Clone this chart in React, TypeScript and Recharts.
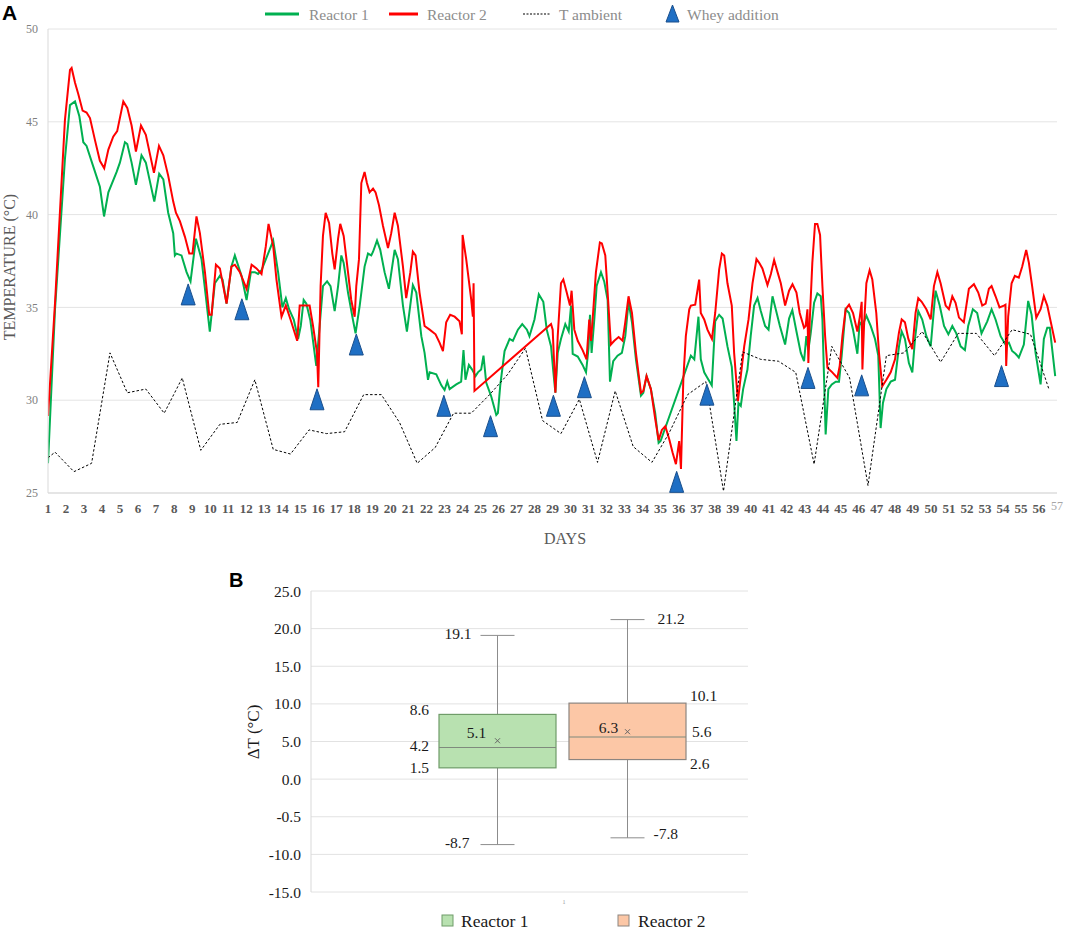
import React from 'react';
import {
  Bar,
  CartesianGrid,
  ComposedChart,
  Line,
  Scatter,
  XAxis,
  YAxis,
} from 'recharts';

const serif = '"Liberation Serif", "Times New Roman", serif';
const sans = '"Liberation Sans", Arial, sans-serif';

// Panel A: temperature readings, [day, °C]
const reactor1: [number, number][] = [
  [1.0, 26.6], [1.39, 34.9], [1.94, 43.0], [2.22, 45.9], [2.5, 46.1], [2.74, 45.3], [2.96, 43.9], [3.14, 43.7],
  [3.51, 42.6], [3.88, 41.5], [4.11, 39.9], [4.35, 41.2], [4.81, 42.3], [4.99, 42.8], [5.27, 43.9], [5.4, 43.8],
  [5.64, 42.8], [5.88, 41.6], [6.19, 43.2], [6.43, 42.8], [6.9, 40.7], [7.17, 42.2], [7.4, 41.9], [7.67, 40.1],
  [7.95, 39.0], [8.04, 37.8], [8.13, 37.9], [8.41, 37.8], [8.69, 36.9], [8.91, 36.4], [9.21, 38.7], [9.52, 37.6],
  [9.76, 35.6], [9.98, 33.7], [10.26, 36.3], [10.54, 36.7], [10.69, 36.5], [10.91, 35.2], [11.18, 37.2], [11.37, 37.8],
  [11.74, 36.7], [12.02, 35.4], [12.26, 36.9], [12.48, 36.9], [12.66, 36.8], [12.85, 37.0], [13.5, 38.6], [13.77, 36.9],
  [14.01, 35.0], [14.2, 35.5], [14.38, 34.9], [14.64, 34.35], [14.88, 33.3], [15.03, 34.0], [15.19, 35.4], [15.34, 35.2],
  [15.56, 34.3], [15.89, 31.85], [16.26, 36.15], [16.49, 36.4], [16.68, 36.15], [16.91, 34.8], [17.1, 36.15], [17.28, 37.8],
  [17.41, 37.4], [17.65, 35.8], [17.93, 34.3], [18.07, 33.6], [18.3, 35.1], [18.57, 37.2], [18.76, 37.9], [18.94, 37.8],
  [19.04, 38.0], [19.26, 38.6], [19.44, 38.1], [19.68, 36.9], [19.92, 36.0], [20.24, 38.1], [20.42, 37.6], [20.7, 35.1],
  [20.92, 33.7], [21.25, 36.2], [21.44, 35.8], [21.72, 33.45], [21.9, 32.55], [22.09, 31.1], [22.18, 31.5], [22.55, 31.4],
  [22.83, 30.8], [23.01, 30.55], [23.16, 31.0], [23.29, 30.6], [23.66, 30.85], [23.93, 31.0], [24.06, 32.7], [24.17, 31.1],
  [24.36, 31.9], [24.54, 31.65], [24.73, 31.3], [24.86, 31.5], [25.04, 31.65], [25.17, 32.4], [25.32, 30.95], [25.6, 30.2],
  [25.88, 29.2], [25.97, 29.3], [26.1, 30.8], [26.34, 32.65], [26.62, 33.3], [26.8, 33.2], [27.08, 33.8], [27.32, 34.1],
  [27.58, 33.8], [27.72, 33.45], [28.0, 34.35], [28.24, 35.7], [28.49, 35.3], [28.68, 33.8], [28.92, 32.9], [29.05, 31.5],
  [29.16, 30.4], [29.29, 32.55], [29.47, 33.3], [29.71, 34.1], [29.9, 33.7], [30.03, 35.1], [30.12, 32.5], [30.4, 32.35],
  [30.67, 31.9], [30.86, 31.5], [31.0, 32.8], [31.08, 34.6], [31.17, 32.55], [31.32, 34.35], [31.45, 36.15], [31.69, 36.9],
  [31.87, 36.4], [32.06, 35.4], [32.19, 31.0], [32.37, 32.1], [32.61, 32.4], [32.85, 32.55], [33.04, 33.45], [33.22, 35.3],
  [33.41, 34.2], [33.63, 32.2], [33.91, 30.25], [34.04, 30.4], [34.22, 31.3], [34.46, 30.6], [34.7, 29.3], [34.89, 27.7],
  [35.0, 27.8], [36.68, 32.4], [36.87, 32.2], [37.1, 34.5], [37.23, 32.2], [37.42, 31.5], [37.6, 31.2], [37.84, 30.8],
  [38.03, 34.25], [38.25, 34.6], [38.44, 34.4], [38.71, 32.9], [38.95, 31.8], [39.08, 29.85], [39.21, 27.8], [39.32, 29.85],
  [39.45, 29.7], [39.58, 30.6], [39.82, 31.65], [40.0, 33.45], [40.19, 35.1], [40.38, 35.5], [40.56, 34.8], [40.8, 34.0],
  [40.99, 33.8], [41.21, 35.6], [41.39, 34.9], [41.62, 34.0], [41.91, 33.0], [42.13, 34.4], [42.31, 34.85], [42.54, 33.7],
  [42.78, 32.55], [42.96, 32.1], [43.09, 33.45], [43.2, 32.7], [43.33, 33.6], [43.52, 35.25], [43.7, 35.75], [43.89, 35.6],
  [43.98, 34.35], [44.16, 28.15], [44.31, 30.6], [44.5, 30.85], [44.72, 31.0], [44.9, 31.0], [45.05, 32.4], [45.27, 34.9],
  [45.46, 34.7], [45.68, 33.8], [45.92, 32.5], [46.05, 34.2], [46.2, 34.0], [46.42, 34.55], [46.66, 34.0], [46.9, 33.3],
  [47.08, 32.4], [47.21, 28.5], [47.34, 29.85], [47.53, 30.6], [47.77, 31.0], [48.01, 31.1], [48.23, 32.9], [48.38, 33.7],
  [48.56, 33.3], [48.78, 32.0], [48.97, 31.5], [49.12, 33.3], [49.3, 34.8], [49.52, 34.35], [49.75, 33.45], [49.99, 32.9],
  [50.26, 35.9], [50.49, 35.1], [50.73, 34.0], [50.97, 33.55], [51.19, 34.0], [51.41, 33.6], [51.65, 32.9], [51.89, 32.7],
  [52.07, 34.0], [52.33, 34.9], [52.57, 34.7], [52.81, 33.6], [53.13, 34.25], [53.37, 34.9], [53.59, 34.35], [53.87, 33.45],
  [54.14, 33.0], [54.33, 33.1], [54.51, 32.65], [54.7, 32.5], [54.88, 32.3], [55.16, 33.0], [55.4, 35.35], [55.59, 34.6],
  [55.81, 32.55], [56.09, 30.85], [56.27, 33.3], [56.46, 33.9], [56.6, 33.9], [56.9, 31.3],
];

const reactor2: [number, number][] = [
  [1.0, 29.15], [1.39, 35.25], [1.94, 45.1], [2.22, 47.8], [2.31, 47.9], [2.5, 47.1], [2.68, 46.5], [2.92, 45.6],
  [3.14, 45.5], [3.33, 45.2], [3.61, 44.0], [3.88, 42.9], [4.12, 42.5], [4.35, 43.5], [4.62, 44.2], [4.84, 44.5],
  [5.18, 46.1], [5.4, 45.75], [5.64, 44.8], [5.88, 43.4], [6.16, 44.8], [6.43, 44.3], [6.88, 42.25], [7.16, 43.7],
  [7.4, 43.2], [7.67, 42.1], [7.95, 40.7], [8.1, 40.1], [8.32, 39.65], [8.6, 38.8], [8.84, 37.9], [9.02, 37.9],
  [9.24, 39.9], [9.43, 39.0], [9.71, 36.9], [9.95, 34.6], [10.08, 34.6], [10.32, 37.3], [10.54, 37.1], [10.91, 35.2],
  [11.18, 37.2], [11.37, 37.3], [11.65, 36.9], [12.02, 36.0], [12.3, 37.3], [12.57, 37.1], [12.85, 36.8], [13.09, 38.3],
  [13.24, 39.5], [13.5, 38.3], [13.68, 36.5], [13.96, 34.5], [14.2, 35.1], [14.46, 34.35], [14.83, 33.2], [14.97, 35.1],
  [15.52, 35.1], [15.71, 34.0], [15.93, 32.55], [16.0, 30.7], [16.13, 36.15], [16.26, 38.85], [16.41, 40.1], [16.6, 39.55],
  [16.78, 37.9], [16.91, 37.05], [17.1, 38.7], [17.22, 39.5], [17.41, 38.85], [17.65, 36.9], [17.83, 35.4], [18.02, 34.5],
  [18.11, 36.15], [18.26, 37.6], [18.39, 41.7], [18.57, 42.3], [18.7, 41.7], [18.85, 41.2], [19.04, 41.4], [19.18, 41.2],
  [19.37, 40.5], [19.59, 39.4], [19.87, 38.2], [20.05, 39.0], [20.24, 40.1], [20.42, 39.4], [20.7, 37.2], [20.88, 35.5],
  [21.11, 36.9], [21.25, 38.0], [21.4, 37.8], [21.62, 35.8], [21.9, 34.0], [22.18, 33.8], [22.51, 33.55], [22.73, 33.1],
  [22.92, 32.65], [23.1, 34.2], [23.32, 34.6], [23.57, 34.5], [23.84, 34.25], [23.97, 33.55], [24.01, 38.9], [24.21, 37.6],
  [24.49, 35.4], [24.58, 34.5], [24.62, 36.3], [24.67, 30.5], [28.92, 34.1], [29.01, 33.8], [29.16, 30.4], [29.29, 33.45],
  [29.47, 36.3], [29.6, 36.5], [29.79, 35.8], [29.97, 35.1], [30.06, 35.9], [30.21, 33.8], [30.4, 33.2], [30.67, 32.7],
  [30.89, 32.2], [31.04, 34.35], [31.14, 33.2], [31.26, 34.8], [31.41, 36.9], [31.63, 38.5], [31.74, 38.45], [31.93, 37.8],
  [32.06, 35.8], [32.24, 33.0], [32.43, 33.2], [32.67, 33.4], [32.89, 33.2], [33.04, 34.2], [33.22, 35.6], [33.41, 34.7],
  [33.63, 32.55], [33.91, 30.4], [34.04, 30.5], [34.22, 31.3], [34.46, 30.6], [34.7, 29.0], [34.89, 27.85], [35.07, 28.4],
  [35.26, 28.6], [35.48, 27.9], [35.66, 27.2], [35.85, 26.55], [36.03, 27.8], [36.13, 26.3], [36.26, 31.1], [36.4, 33.45],
  [36.59, 34.9], [36.68, 35.1], [36.92, 35.15], [37.14, 36.5], [37.23, 34.7], [37.42, 34.35], [37.6, 33.8], [37.85, 33.3],
  [38.03, 34.7], [38.25, 37.05], [38.4, 37.9], [38.53, 37.8], [38.71, 36.3], [38.95, 35.1], [39.08, 32.55], [39.29, 29.95],
  [39.45, 31.3], [39.64, 32.9], [39.88, 34.35], [40.1, 36.3], [40.32, 37.6], [40.47, 37.4], [40.65, 37.1], [40.93, 36.2],
  [41.12, 36.8], [41.3, 37.55], [41.49, 36.9], [41.67, 36.3], [41.91, 35.1], [42.13, 35.9], [42.32, 36.25], [42.54, 35.8],
  [42.72, 34.7], [42.96, 33.9], [43.05, 34.0], [43.15, 34.9], [43.2, 32.0], [43.28, 34.35], [43.42, 37.4], [43.57, 39.5],
  [43.7, 39.5], [43.85, 38.9], [43.98, 36.15], [44.13, 33.45], [44.26, 31.75], [44.53, 31.5], [44.81, 31.2], [44.94, 31.85],
  [45.09, 33.45], [45.27, 34.9], [45.46, 35.15], [45.68, 34.7], [45.92, 33.7], [46.05, 34.45], [46.16, 35.3], [46.2, 31.65],
  [46.29, 34.0], [46.42, 36.3], [46.6, 37.0], [46.75, 36.5], [46.97, 34.7], [47.12, 32.55], [47.3, 30.75], [47.53, 31.1],
  [47.77, 31.5], [48.01, 32.2], [48.23, 33.65], [48.38, 34.35], [48.56, 34.2], [48.75, 33.3], [48.97, 32.75], [49.15, 34.7],
  [49.3, 35.5], [49.49, 35.3], [49.75, 34.9], [49.99, 34.35], [50.17, 36.15], [50.36, 36.9], [50.54, 36.3], [50.82, 35.1],
  [51.0, 34.9], [51.19, 35.6], [51.37, 35.25], [51.56, 34.45], [51.83, 34.2], [52.11, 36.0], [52.39, 36.25], [52.63, 35.8],
  [52.85, 35.1], [53.04, 35.2], [53.22, 36.0], [53.37, 36.15], [53.59, 35.6], [53.81, 35.0], [54.05, 35.1], [54.14, 35.15],
  [54.18, 31.85], [54.29, 34.5], [54.48, 36.3], [54.66, 36.7], [54.88, 36.6], [55.07, 37.2], [55.29, 38.1], [55.44, 37.4],
  [55.62, 36.15], [55.85, 34.45], [56.09, 34.9], [56.27, 35.6], [56.46, 35.1], [56.9, 33.1],
];

const ambient: [number, number][] = [
  [1.0, 26.9], [1.39, 27.2], [2.44, 26.15], [3.42, 26.6], [4.44, 32.55], [5.4, 30.4], [6.43, 30.6], [7.45, 29.3],
  [8.45, 31.2], [9.48, 27.3], [10.54, 28.7], [11.5, 28.8], [12.48, 31.1], [13.5, 27.35], [14.46, 27.1], [15.49, 28.4],
  [16.45, 28.2], [17.46, 28.3], [18.52, 30.3], [19.5, 30.3], [20.51, 28.8], [21.49, 26.6], [22.49, 27.45], [23.51, 29.3],
  [24.49, 29.3], [25.51, 30.3], [26.52, 31.4], [27.5, 32.8], [28.45, 28.9], [29.47, 28.2], [30.49, 30.05], [31.5, 26.65],
  [32.48, 30.5], [33.48, 27.5], [34.52, 26.65], [35.48, 28.25], [36.5, 30.3], [37.51, 31.0], [38.49, 25.1], [39.55, 32.6],
  [40.56, 32.2], [41.54, 32.1], [42.5, 31.5], [43.52, 26.55], [44.5, 32.9], [45.49, 31.2], [46.51, 25.4], [47.53, 32.4],
  [48.51, 32.55], [49.52, 33.7], [50.54, 32.05], [51.52, 33.6], [52.52, 33.6], [53.53, 32.4], [54.51, 33.8], [55.53, 33.55],
  [56.55, 30.6],
];

const wheyDays = [8.78, 11.76, 15.93, 18.11, 22.97, 25.56, 29.05, 30.77, 35.89, 37.57, 43.18, 46.16, 53.92];
const wheyTemps = [35.7, 34.9, 30.05, 33.0, 29.7, 28.6, 29.7, 30.7, 25.6, 30.3, 31.2, 30.8, 31.3];

const dayTicks = Array.from({ length: 57 }, (_, i) => i + 1);
const tempTicks = [25, 30, 35, 40, 45, 50];

// Panel B: ΔT box plot, one entry per reactor
const boxCategory = '1';
const boxSeries = ['Reactor 1', 'Reactor 2'];
const boxMin = [-8.7, -7.8];
const boxQ1 = [1.5, 2.6];
const boxMedian = [4.2, 5.6];
const boxQ3 = [8.6, 10.1];
const boxMax = [19.1, 21.2];
const boxMean = [5.1, 6.3];
const boxFill = ['#b8e1b0', '#fcc7a6'];
const boxStroke = ['#6f9c69', '#8c8580'];

const deltaTicks = [-15, -10, -5, 0, 5, 10, 15, 20, 25];
const deltaTickLabels = ['-15.0', '-10.0', '-0.5', '0.0', '5.0', '10.0', '15.0', '20.0', '25.0'];

const toPoints = (arr: [number, number][]) => arr.map(([day, value]) => ({ day, value }));
const wheyPoints = wheyDays.map((day, i) => ({ day, value: wheyTemps[i] }));

const boxRows = [
  {
    name: boxCategory,
    r0: [boxMin[0], boxMax[0]],
    r1: [boxMin[1], boxMax[1]],
  },
];

const DayTick = (props: any) => {
  const { x, y, payload } = props;
  const last = payload.value === 57;
  return (
    <text
      x={x}
      y={last ? y + 9 : y + 12}
      textAnchor="middle"
      fontFamily={serif}
      fontSize={last ? 12 : 13}
      fontWeight={last ? 400 : 700}
      fill={last ? '#a6a6a6' : '#595959'}
    >
      {payload.value}
    </text>
  );
};

const Triangle = (props: any) => {
  const { cx, cy } = props;
  if (cx == null || cy == null) return null;
  return (
    <polygon
      points={`${cx},${cy - 10.5} ${cx - 7},${cy + 10.5} ${cx + 7},${cy + 10.5}`}
      fill="#1f6fc4"
      stroke="#1a4f8c"
      strokeWidth={1}
    />
  );
};

const CategoryTick = (props: any) => {
  const { x, y, payload } = props;
  return (
    <text x={x + 2} y={y + 4} textAnchor="middle" fontFamily={serif} fontSize={6} fill="#999">
      {payload.value}
    </text>
  );
};

const BoxShape = (props: any) => {
  const { x, y, width, height, s } = props;
  const lo = boxMin[s];
  const hi = boxMax[s];
  const top = Math.min(y, y + height);
  const bottom = Math.max(y, y + height);
  const py = (v: number) => top + ((hi - v) / (hi - lo)) * (bottom - top);
  const cx = x + width / 2;
  const grey = '#8c8c8c';
  const lab = { fontFamily: serif, fontSize: 15.5, fill: '#1a1a1a' };
  const left = s === 0;
  const m = py(boxMean[s]);
  return (
    <g>
      <line x1={cx} x2={cx} y1={py(hi)} y2={py(boxQ3[s])} stroke={grey} />
      <line x1={cx} x2={cx} y1={py(boxQ1[s])} y2={py(lo)} stroke={grey} />
      <line x1={cx - 17} x2={cx + 17} y1={py(hi)} y2={py(hi)} stroke={grey} />
      <line x1={cx - 17} x2={cx + 17} y1={py(lo)} y2={py(lo)} stroke={grey} />
      <rect
        x={x}
        y={py(boxQ3[s])}
        width={width}
        height={py(boxQ1[s]) - py(boxQ3[s])}
        fill={boxFill[s]}
        stroke={boxStroke[s]}
        strokeWidth={1.2}
      />
      <line x1={x} x2={x + width} y1={py(boxMedian[s])} y2={py(boxMedian[s])} stroke="#7f8a7d" strokeWidth={1.2} />
      <line x1={cx - 2.5} x2={cx + 2.5} y1={m - 2.5} y2={m + 2.5} stroke="#666" />
      <line x1={cx - 2.5} x2={cx + 2.5} y1={m + 2.5} y2={m - 2.5} stroke="#666" />
      {left ? (
        <g {...lab} dominantBaseline="central">
          <text x={cx - 26} y={py(hi) - 2} textAnchor="end">{hi.toFixed(1)}</text>
          <text x={x - 10} y={py(boxQ3[s]) - 5} textAnchor="end">{boxQ3[s].toFixed(1)}</text>
          <text x={x - 10} y={py(boxMedian[s]) - 2} textAnchor="end">{boxMedian[s].toFixed(1)}</text>
          <text x={x - 10} y={py(boxQ1[s])} textAnchor="end">{boxQ1[s].toFixed(1)}</text>
          <text x={cx - 28} y={py(lo) - 2} textAnchor="end">{lo.toFixed(1)}</text>
          <text x={cx - 21} y={m - 8} textAnchor="middle">{boxMean[s].toFixed(1)}</text>
        </g>
      ) : (
        <g {...lab} dominantBaseline="central">
          <text x={cx + 30} y={py(hi) - 1} textAnchor="start">{hi.toFixed(1)}</text>
          <text x={x + width + 4} y={py(boxQ3[s]) - 8} textAnchor="start">{boxQ3[s].toFixed(1)}</text>
          <text x={x + width + 6} y={py(boxMedian[s]) - 5} textAnchor="start">{boxMedian[s].toFixed(1)}</text>
          <text x={x + width + 4} y={py(boxQ1[s]) + 4} textAnchor="start">{boxQ1[s].toFixed(1)}</text>
          <text x={cx + 26} y={py(lo) - 4} textAnchor="start">{lo.toFixed(1)}</text>
          <text x={cx - 19} y={m - 4} textAnchor="middle">{boxMean[s].toFixed(1)}</text>
        </g>
      )}
    </g>
  );
};

export default function App() {
  return (
    <div style={{ position: 'absolute', left: 0, top: 0, width: 1065, height: 930, background: '#fff' }}>
      <div style={{ position: 'absolute', left: 0, top: 0 }}>
        <ComposedChart width={1065} height={560} margin={{ top: 29, right: 8, bottom: 37, left: 8 }}>
          <CartesianGrid vertical={false} stroke="#e4e4e4" />
          <XAxis
            dataKey="day"
            type="number"
            domain={[1, 57]}
            ticks={dayTicks}
            interval={0}
            allowDataOverflow
            height={30}
            tickLine={false}
            axisLine={{ stroke: '#d9d9d9' }}
            tick={<DayTick />}
          />
          <YAxis
            type="number"
            domain={[25, 50]}
            ticks={tempTicks}
            allowDataOverflow
            width={40}
            tickLine={false}
            tickMargin={4}
            axisLine={{ stroke: '#d9d9d9' }}
            tick={{ fill: '#7f7f7f', fontSize: 12, fontFamily: serif }}
          />
          <Line
            data={toPoints(reactor1)}
            dataKey="value"
            type="linear"
            stroke="#00b050"
            strokeWidth={2}
            dot={false}
            isAnimationActive={false}
          />
          <Line
            data={toPoints(reactor2)}
            dataKey="value"
            type="linear"
            stroke="#ff0000"
            strokeWidth={2}
            dot={false}
            isAnimationActive={false}
          />
          <Line
            data={toPoints(ambient)}
            dataKey="value"
            type="linear"
            stroke="#000"
            strokeWidth={1}
            strokeDasharray="2.5 2"
            dot={false}
            isAnimationActive={false}
          />
          <Scatter data={wheyPoints} dataKey="value" shape={<Triangle />} isAnimationActive={false} />
        </ComposedChart>
      </div>

      <div style={{ position: 'absolute', left: 0, top: 560 }}>
        <ComposedChart
          width={1065}
          height={370}
          data={boxRows}
          margin={{ top: 31, right: 317, bottom: 8, left: 251 }}
          barGap={13}
        >
          <CartesianGrid vertical={false} stroke="#e2e2e2" />
          <XAxis
            dataKey="name"
            type="category"
            padding={{ left: 65, right: 0 }}
            height={30}
            tickLine={false}
            axisLine={false}
            tick={<CategoryTick />}
          />
          <YAxis
            type="number"
            domain={[-15, 25]}
            ticks={deltaTicks}
            allowDataOverflow
            width={60}
            tickLine={false}
            tickMargin={4}
            axisLine={{ stroke: '#d9d9d9' }}
            tickFormatter={(v: number) => deltaTickLabels[deltaTicks.indexOf(v)]}
            tick={{ fill: '#1a1a1a', fontSize: 15.5, fontFamily: serif }}
          />
          <Bar
            dataKey="r0"
            barSize={117}
            isAnimationActive={false}
            shape={(p: any) => <BoxShape {...p} s={0} />}
          />
          <Bar
            dataKey="r1"
            barSize={117}
            isAnimationActive={false}
            shape={(p: any) => <BoxShape {...p} s={1} />}
          />
        </ComposedChart>
      </div>

      <svg
        width={1065}
        height={930}
        style={{ position: 'absolute', left: 0, top: 0, pointerEvents: 'none' }}
      >
        <text x={2} y={20} fontFamily={sans} fontWeight={700} fontSize={21} fill="#000">A</text>
        <text x={229} y={587} fontFamily={sans} fontWeight={700} fontSize={20} fill="#000">B</text>

        {/* panel A legend */}
        <g fontFamily={serif} fontSize={15.5} fill="#8c8c8c">
          <line x1={265} x2={299} y1={14} y2={14} stroke="#00b050" strokeWidth={3} />
          <text x={309} y={19.5}>{boxSeries[0]}</text>
          <line x1={389} x2={418} y1={14} y2={14} stroke="#ff0000" strokeWidth={3} />
          <text x={427} y={19.5}>{boxSeries[1]}</text>
          <line x1={523} x2={550} y1={14} y2={14} stroke="#000" strokeWidth={1.2} strokeDasharray="2 1.5" />
          <text x={559} y={19.5}>T ambient</text>
          <polygon points="672.5,5 666,22 679,22" fill="#1f6fc4" stroke="#1a4f8c" />
          <text x={687} y={19.5}>Whey addition</text>
        </g>

        <text
          x={15}
          y={267}
          transform="rotate(-90, 15, 267)"
          textAnchor="middle"
          fontFamily={serif}
          fontSize={16}
          fill="#595959"
        >
          TEMPERATURE (°C)
        </text>
        <text x={565} y={543.5} textAnchor="middle" fontFamily={serif} fontSize={16} fill="#595959">
          DAYS
        </text>

        <text
          x={259}
          y={732}
          transform="rotate(-90, 259, 732)"
          textAnchor="middle"
          fontFamily={serif}
          fontSize={17}
          fill="#1a1a1a"
        >
          ΔT (°C)
        </text>

        {/* panel B legend */}
        <g fontFamily={serif} fontSize={17.5} fill="#1a1a1a">
          <rect x={442} y={915} width={11} height={11} fill={boxFill[0]} stroke={boxStroke[0]} />
          <text x={461} y={927}>{boxSeries[0]}</text>
          <rect x={618} y={915} width={11} height={11} fill={boxFill[1]} stroke={boxStroke[1]} />
          <text x={638} y={927}>{boxSeries[1]}</text>
        </g>
      </svg>
    </div>
  );
}
